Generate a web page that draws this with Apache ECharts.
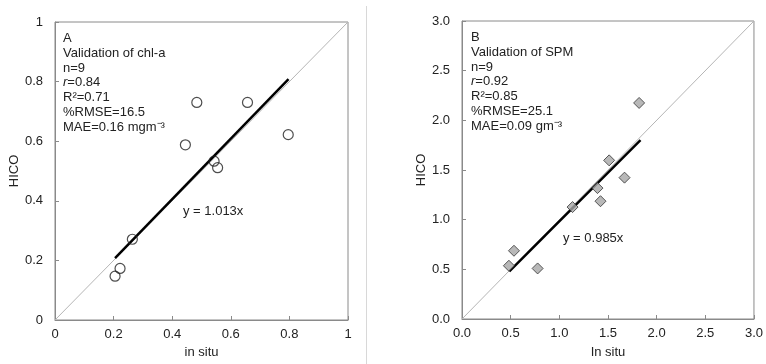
<!DOCTYPE html>
<html>
<head>
<meta charset="utf-8">
<script src="https://cdn.jsdelivr.net/npm/echarts@6/dist/echarts.min.js"></script>
<style>
  html, body { margin: 0; padding: 0; background: #fff; }
  #chart { width: 766px; height: 364px; }
</style>
</head>
<body>
<div id="chart"></div>
<script>
// panel A: chl-a
const chlInSitu = [0.205, 0.222, 0.264, 0.445, 0.484, 0.543, 0.555, 0.657, 0.796];
const chlHico   = [0.147, 0.173, 0.271, 0.588, 0.730, 0.533, 0.511, 0.730, 0.622];
const chlFitX = [0.205, 0.797];
const chlFitY = [0.208, 0.808];
const chlTicks = [0, 0.2, 0.4, 0.6, 0.8, 1];

// panel B: SPM
const spmInSitu = [0.482, 0.534, 0.777, 1.136, 1.392, 1.423, 1.512, 1.670, 1.820];
const spmHico   = [0.536, 0.687, 0.509, 1.127, 1.318, 1.186, 1.597, 1.423, 2.175];
const spmFitX = [0.486, 1.834];
const spmFitY = [0.479, 1.800];
const spmTicks = [0, 0.5, 1.0, 1.5, 2.0, 2.5, 3.0];

const oneToOneA = [[0, 0], [1, 1]];
const oneToOneB = [[0, 0], [3, 3]];

const zip = (a, b) => a.map((v, i) => [v, b[i]]);

const font = 'Liberation Sans, Arial, sans-serif';
const axisGray = '#8a8a8a';

function xAx(gridIndex, max, interval, name, gap, fmt) {
  return {
    type: 'value', gridIndex, min: 0, max, interval,
    name, nameLocation: 'middle', nameGap: gap,
    nameTextStyle: { color: '#222', fontSize: 13, fontFamily: font },
    axisLine: { show: true, lineStyle: { color: axisGray, width: 1 } },
    axisTick: { show: true, inside: true, length: 4, lineStyle: { color: axisGray } },
    axisLabel: { color: '#222', fontSize: 13, fontFamily: font, margin: 8, formatter: fmt },
    splitLine: { show: false }
  };
}
function yAx(gridIndex, max, interval, gap, fmt) {
  return {
    type: 'value', gridIndex, min: 0, max, interval,
    name: 'HICO', nameLocation: 'middle', nameGap: gap, nameRotate: 90,
    nameTextStyle: { color: '#222', fontSize: 13, fontFamily: font },
    axisLine: { show: true, lineStyle: { color: axisGray, width: 1 } },
    axisTick: { show: true, inside: true, length: 4, lineStyle: { color: axisGray } },
    axisLabel: { color: '#222', fontSize: 13, fontFamily: font, margin: 12, formatter: fmt },
    splitLine: { show: false }
  };
}

const fmtA = v => chlTicks.includes(v) ? String(v) : '';
const fmtB = v => v.toFixed(1);

const statText = (lines) => lines.join('\n');

const mychart = echarts.init(document.getElementById('chart'));
const option = {
  animation: false,
  grid: [
    { left: 55, top: 22, width: 293, height: 301, borderColor: axisGray, borderWidth: 1, show: true },
    { left: 462, top: 21, width: 292, height: 304, borderColor: axisGray, borderWidth: 1, show: true }
  ],
  xAxis: [
    xAx(0, 1, 0.2, 'in situ', 26, fmtA),
    xAx(1, 3, 0.5, 'In situ', 27, fmtB)
  ],
  yAxis: [
    yAx(0, 1, 0.2, 31, fmtA),
    yAx(1, 3, 0.5, 33, fmtB)
  ],
  graphic: [
    {
      type: 'line', shape: { x1: 366.5, y1: 6, x2: 366.5, y2: 364 },
      style: { stroke: '#d8d8d8', lineWidth: 1 }, silent: true
    },
    {
      type: 'text', left: 63, top: 31,
      style: {
        text: statText(['A', 'Validation of chl-a', 'n=9', '{i|r}=0.84', 'R\u00b2=0.71',
          '%RMSE=16.5', 'MAE=0.16 mgm\u207b\u00b3']),
        font: '13px ' + font, fill: '#222', lineHeight: 14.8,
        rich: { i: { fontStyle: 'italic', fontSize: 13, fontFamily: font, fill: '#222' } }
      }
    },
    {
      type: 'text', left: 471, top: 30,
      style: {
        text: statText(['B', 'Validation of SPM', 'n=9', '{i|r}=0.92', 'R\u00b2=0.85',
          '%RMSE=25.1', 'MAE=0.09 gm\u207b\u00b3']),
        font: '13px ' + font, fill: '#222', lineHeight: 14.8,
        rich: { i: { fontStyle: 'italic', fontSize: 13, fontFamily: font, fill: '#222' } }
      }
    },
    {
      type: 'text', left: 183, top: 205,
      style: { text: 'y = 1.013x', font: '13px ' + font, fill: '#222' }
    },
    {
      type: 'text', left: 563, top: 232,
      style: { text: 'y = 0.985x', font: '13px ' + font, fill: '#222' }
    }
  ],
  series: [
    {
      type: 'line', xAxisIndex: 0, yAxisIndex: 0, data: oneToOneA, symbol: 'none',
      lineStyle: { color: '#b5b5b5', width: 1 }, silent: true
    },
    {
      type: 'line', xAxisIndex: 0, yAxisIndex: 0, data: zip(chlFitX, chlFitY), symbol: 'none',
      lineStyle: { color: '#000', width: 2.5 }, z: 3
    },
    {
      type: 'scatter', xAxisIndex: 0, yAxisIndex: 0, data: zip(chlInSitu, chlHico),
      symbol: 'circle', symbolSize: 10,
      itemStyle: { color: 'rgba(255,255,255,0)', borderColor: '#222', borderWidth: 1.2 }, z: 4
    },
    {
      type: 'line', xAxisIndex: 1, yAxisIndex: 1, data: oneToOneB, symbol: 'none',
      lineStyle: { color: '#b5b5b5', width: 1 }, silent: true
    },
    {
      type: 'line', xAxisIndex: 1, yAxisIndex: 1, data: zip(spmFitX, spmFitY), symbol: 'none',
      lineStyle: { color: '#000', width: 2.5 }, z: 3
    },
    {
      type: 'scatter', xAxisIndex: 1, yAxisIndex: 1, data: zip(spmInSitu, spmHico),
      symbol: 'diamond', symbolSize: 11,
      itemStyle: { color: '#a6a6a6', borderColor: '#333', borderWidth: 1 }, z: 4
    }
  ]
};
mychart.setOption(option);
</script>
</body>
</html>
